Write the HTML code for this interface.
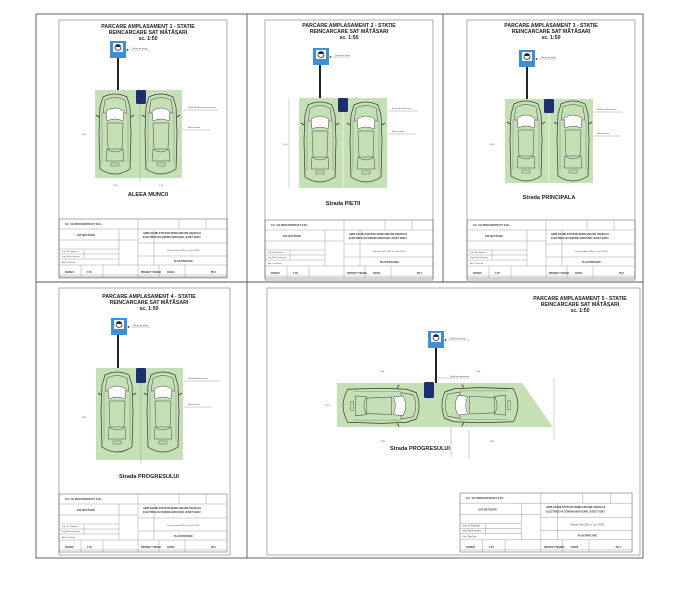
<!DOCTYPE html>
<html><head><meta charset="utf-8"><style>
html,body{margin:0;padding:0;background:#fff;}
svg{display:block;font-family:"Liberation Sans",sans-serif;}
.t{font-weight:bold;font-size:5.2px;fill:#222;text-anchor:middle;}
.s{font-weight:bold;font-size:5.6px;fill:#222;text-anchor:middle;}
.m{font-size:2.2px;fill:#444;}
.mb{font-size:2.4px;fill:#333;font-weight:bold;}
</style></head><body>
<svg width="696" height="597" viewBox="0 0 696 597" xmlns="http://www.w3.org/2000/svg">
<defs>
 <g id="car">
  <path d="M6,4 Q18,-2 30,4 L33,14 L34,40 L33,76 Q18,86 3,76 L2,40 L3,14 Z" fill="none" stroke="#333" stroke-width="0.7"/>
  <path d="M8,7 Q18,2 28,7 L30,20 L6,20 Z" fill="none" stroke="#444" stroke-width="0.5"/>
  <path d="M9,18 Q18,12 27,18 L26,28 Q18,24 10,28 Z" fill="#fff" stroke="#444" stroke-width="0.5"/>
  <path d="M10,30 L26,30 L25,56 L11,56 Z" fill="none" stroke="#444" stroke-width="0.5"/>
  <path d="M10,56 Q18,62 26,56 L27,68 L9,68 Z" fill="none" stroke="#444" stroke-width="0.5"/>
  <rect x="14" y="70" width="8" height="3" fill="none" stroke="#444" stroke-width="0.4"/>
  <path d="M2,24 L-1,22 M34,24 L37,22" stroke="#333" stroke-width="0.8"/>
  <path d="M5,20 L5,70 M31,20 L31,70" stroke="#555" stroke-width="0.3"/>
 </g>
 <g id="sign">
  <rect x="0" y="0" width="16" height="17" fill="#3d8fd8"/>
  <rect x="3" y="2" width="10" height="9" fill="#fff"/>
  <circle cx="8" cy="6.5" r="3" fill="none" stroke="#223" stroke-width="0.8"/>
  <rect x="6" y="4" width="4" height="2" fill="#223"/>
  <circle cx="17.5" cy="9" r="0.9" fill="#223"/>
 </g>
 <g id="tb">
  <rect x="0" y="0" width="168" height="58" fill="none" stroke="#555" stroke-width="0.5"/>
  <path d="M79,0 V58 M0,10 H79 M0,21 H79 M0,30 H60 M0,35 H60 M0,40 H60 M0,46 H168 M79,10 H168 M79,24 H168 M79,37 H168 M60,10 V46 M22,46 V58 M44,46 V58 M100,46 V58 M126,46 V58 M147,0 V10 M120,0 V10 M95,10 V46 M25,30 V40 M0,56 H168" stroke="#777" stroke-width="0.35" fill="none"/>
  <text class="mb" x="6" y="6">S.C. VIA PROCONSTRUCT S.R.L.</text>
  <text class="mb" x="18" y="17">SAT MĂTĂSARI</text>
  <text class="mb" x="84" y="15">AMPLASARE STATII DE REINCARCARE VEHICULE</text>
  <text class="mb" x="84" y="19">ELECTRICE IN COMUNA MATASARI, JUDET GORJ</text>
  <text class="m" x="108" y="32">Parcare Nina 203L nr. cad. 37000</text>
  <text class="mb" x="115" y="43">PLAN PARCARE</text>
  <text class="mb" x="6" y="54">06/2023</text>
  <text class="mb" x="28" y="54">1:50</text>
  <text class="mb" x="82" y="54">PROIECT TEHNIC</text>
  <text class="mb" x="108" y="54">0/2023</text>
  <text class="mb" x="152" y="54">PP-1</text>
  <text class="m" x="3" y="33">Ing. Ion Popescu</text>
  <text class="m" x="3" y="38">Ing. Maria Ionescu</text>
  <text class="m" x="3" y="44">Arh. Dan Ene</text>
 </g>
</defs>

<!-- outer grid -->
<g stroke="#555" stroke-width="0.9" fill="none">
 <rect x="36" y="14" width="607" height="544"/>
 <line x1="36" y1="282" x2="643" y2="282"/>
 <line x1="247" y1="14" x2="247" y2="558"/>
 <line x1="443" y1="14" x2="443" y2="282"/>
</g>

<!-- ===== P1 ===== -->
<rect x="59" y="20" width="168" height="258" fill="none" stroke="#777" stroke-width="0.6"/>
<text class="t" x="148" y="28">PARCARE AMPLASAMENT 1 - STATIE</text>
<text class="t" x="148" y="34">REINCARCARE SAT MĂTĂSARI</text>
<text class="t" x="148" y="40">sc. 1:50</text>
<use href="#sign" x="110" y="41"/>
<line x1="130" y1="50" x2="150" y2="50" stroke="#555" stroke-width="0.3"/><text class="m" x="132" y="49">Panou de afisaj</text>
<rect x="117" y="58" width="2" height="33" fill="#222"/>
<rect x="95" y="90" width="87" height="88" fill="#c6e0b6"/>
<line x1="140" y1="90" x2="140" y2="182" stroke="#888" stroke-width="0.4"/>
<use href="#car" x="97" y="93"/><use href="#car" x="143" y="93"/>
<rect x="136" y="90" width="10" height="14" rx="1.5" fill="#1e2f70"/>
<line x1="183" y1="110" x2="218" y2="110" stroke="#555" stroke-width="0.3"/><text class="m" x="188" y="108">Statie de alimentare electrica</text>
<line x1="183" y1="130" x2="210" y2="130" stroke="#555" stroke-width="0.3"/><text class="m" x="188" y="128">Marcaj rutier</text>
<text class="m" x="82" y="135">5.00</text>
<text class="m" x="113" y="186">2.50</text><text class="m" x="159" y="186">2.50</text>
<text class="s" x="148" y="196">ALEEA MUNCII</text>
<use href="#tb" x="59" y="219"/>

<!-- ===== P2 ===== -->
<rect x="265" y="20" width="168" height="260" fill="none" stroke="#777" stroke-width="0.6"/>
<text class="t" x="349" y="27">PARCARE AMPLASAMENT 2 - STATIE</text>
<text class="t" x="349" y="33">REINCARCARE SAT MĂTĂSARI</text>
<text class="t" x="349" y="39">sc. 1:50</text>
<use href="#sign" x="313" y="48"/>
<line x1="333" y1="57" x2="350" y2="57" stroke="#555" stroke-width="0.3"/><text class="m" x="335" y="56">Panou de afisaj</text>
<rect x="319" y="65" width="2" height="33" fill="#222"/>
<rect x="299" y="98" width="88" height="90" fill="#c6e0b6"/>
<line x1="343" y1="98" x2="343" y2="190" stroke="#fff" stroke-width="0.6"/>
<use href="#car" x="302" y="101"/><use href="#car" x="348" y="101"/>
<rect x="338" y="98" width="10" height="14" rx="1.5" fill="#1e2f70"/>
<line x1="388" y1="111" x2="418" y2="111" stroke="#555" stroke-width="0.3"/><text class="m" x="392" y="109">Statie de alimentare</text>
<line x1="388" y1="134" x2="416" y2="134" stroke="#555" stroke-width="0.3"/><text class="m" x="392" y="132">Marcaj rutier</text>
<line x1="289" y1="98" x2="289" y2="188" stroke="#777" stroke-width="0.3"/>
<text class="m" x="283" y="145">5.00</text>
<text class="s" x="343" y="205">Strada PIETII</text>
<use href="#tb" x="265" y="220"/>

<!-- ===== P3 ===== -->
<rect x="467" y="20" width="168" height="260" fill="none" stroke="#777" stroke-width="0.6"/>
<text class="t" x="551" y="27">PARCARE AMPLASAMENT 3 - STATIE</text>
<text class="t" x="551" y="33">REINCARCARE SAT MĂTĂSARI</text>
<text class="t" x="551" y="39">sc. 1:50</text>
<use href="#sign" x="519" y="50"/>
<line x1="539" y1="59" x2="556" y2="59" stroke="#555" stroke-width="0.3"/><text class="m" x="541" y="58">Panou de afisaj</text>
<rect x="526" y="67" width="2" height="32" fill="#222"/>
<rect x="505" y="99" width="88" height="84" fill="#c6e0b6"/>
<line x1="549" y1="99" x2="549" y2="185" stroke="#fff" stroke-width="0.6"/>
<use href="#car" x="508" y="100"/><use href="#car" x="555" y="100"/>
<rect x="544" y="99" width="10" height="14" rx="1.5" fill="#1e2f70"/>
<line x1="594" y1="112" x2="622" y2="112" stroke="#555" stroke-width="0.3"/><text class="m" x="597" y="110">Statie de alimentare</text>
<line x1="594" y1="136" x2="620" y2="136" stroke="#555" stroke-width="0.3"/><text class="m" x="597" y="134">Marcaj rutier</text>
<text class="m" x="490" y="145">5.00</text>
<text class="s" x="549" y="199">Strada PRINCIPALA</text>
<use href="#tb" x="467" y="220"/>

<!-- ===== P4 ===== -->
<rect x="59" y="288" width="171" height="267" fill="none" stroke="#777" stroke-width="0.6"/>
<text class="t" x="149" y="298">PARCARE AMPLASAMENT 4 - STATIE</text>
<text class="t" x="149" y="304">REINCARCARE SAT MĂTĂSARI</text>
<text class="t" x="149" y="310">sc. 1:50</text>
<use href="#sign" x="111" y="318"/>
<line x1="131" y1="327" x2="150" y2="327" stroke="#555" stroke-width="0.3"/><text class="m" x="133" y="326">Panou de afisaj</text>
<rect x="117" y="335" width="2" height="34" fill="#222"/>
<rect x="96" y="368" width="87" height="92" fill="#c6e0b6"/>
<line x1="141" y1="368" x2="141" y2="464" stroke="#888" stroke-width="0.4"/>
<use href="#car" x="99" y="371"/><use href="#car" x="145" y="371"/>
<rect x="136" y="368" width="10" height="15" rx="1.5" fill="#1e2f70"/>
<line x1="184" y1="381" x2="220" y2="381" stroke="#555" stroke-width="0.3"/><text class="m" x="188" y="379">Statie de alimentare</text>
<line x1="184" y1="407" x2="212" y2="407" stroke="#555" stroke-width="0.3"/><text class="m" x="188" y="405">Marcaj rutier</text>
<text class="m" x="82" y="418">5.00</text>
<text class="s" x="149" y="478">Strada PROGRESULUI</text>
<use href="#tb" x="59" y="494"/>

<!-- ===== P5 ===== -->
<rect x="267" y="288" width="373" height="267" fill="none" stroke="#777" stroke-width="0.6"/>
<text class="t" x="580" y="300">PARCARE AMPLASAMENT 5 - STATIE</text>
<text class="t" x="580" y="306">REINCARCARE SAT MĂTĂSARI</text>
<text class="t" x="580" y="312">sc. 1:50</text>
<use href="#sign" x="428" y="331"/>
<line x1="448" y1="340" x2="470" y2="340" stroke="#555" stroke-width="0.3"/><text class="m" x="450" y="339">Panou de afisaj</text>
<rect x="435" y="348" width="2" height="35" fill="#222"/>
<polygon points="337,383 522,383 553,427 337,427" fill="#c6e0b6"/>
<g transform="translate(420,386) rotate(90)"><use href="#car" x="0" y="0" transform="scale(1.1,0.95)"/></g>
<g transform="translate(441,425) rotate(-90)"><use href="#car" x="0" y="0" transform="scale(1.1,0.95)"/></g>
<rect x="424" y="382" width="10" height="16" rx="1.5" fill="#1e2f70"/>
<line x1="436" y1="378" x2="470" y2="378" stroke="#555" stroke-width="0.3"/><text class="m" x="450" y="377">Statie de alimentare</text>
<line x1="451" y1="427" x2="451" y2="457" stroke="#555" stroke-width="0.3"/>
<line x1="469" y1="430" x2="469" y2="459" stroke="#555" stroke-width="0.3"/>
<line x1="554" y1="378" x2="554" y2="440" stroke="#777" stroke-width="0.3"/>
<text class="m" x="380" y="372">5.00</text><text class="m" x="476" y="372">5.00</text>
<text class="m" x="381" y="442">5.00</text><text class="m" x="490" y="442">5.00</text>
<text class="m" x="325" y="406">2.50</text>
<text class="s" x="420" y="450">Strada PROGRESULUI</text>
<g transform="translate(460,493) scale(1.024,1.017)"><use href="#tb"/></g>
</svg>
</body></html>
